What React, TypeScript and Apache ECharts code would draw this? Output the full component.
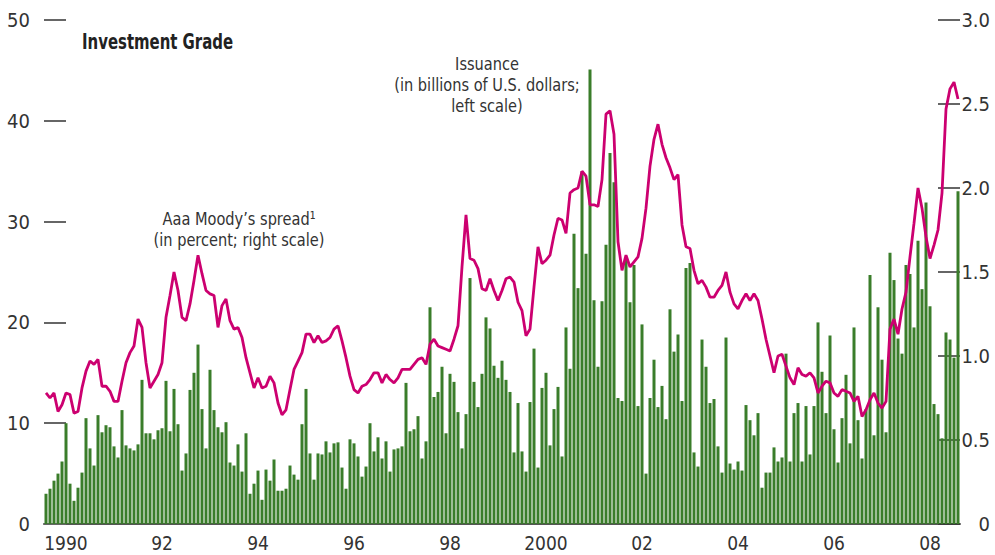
import React, { useEffect, useRef } from "react";
import * as echarts from "echarts";

// Monthly, Aug 1989 – Aug 2008
const startYear = 1989;
const startMonth = 8;

// Investment-grade issuance, billions of U.S. dollars (left scale)
const issuance: number[] = [
  3.0, 3.5, 4.3, 5.0, 6.2, 10.0, 4.0, 2.3, 3.6, 5.1, 10.5, 7.5, 5.8, 10.8, 9.1, 9.8, 9.6, 7.7, 6.6, 11.3,
  7.8, 7.5, 7.3, 7.9, 14.3, 9.0, 9.0, 8.4, 9.3, 9.5, 14.2, 9.2, 13.4, 9.9, 5.3, 7.0, 13.3, 15.0, 17.8, 11.4,
  7.5, 15.3, 11.3, 9.6, 9.1, 10.1, 6.1, 5.8, 7.9, 5.2, 9.0, 3.0, 4.0, 5.3, 2.4, 5.4, 4.3, 6.4, 3.3, 3.3,
  3.5, 5.8, 4.9, 4.4, 9.9, 13.4, 7.0, 4.4, 7.0, 6.9, 8.2, 7.1, 8.0, 8.1, 5.6, 3.5, 8.4, 8.0, 6.7, 4.7,
  5.7, 10.0, 7.2, 8.6, 6.5, 8.2, 5.2, 7.4, 7.5, 7.7, 14.0, 9.2, 9.4, 10.7, 6.5, 8.2, 21.5, 12.6, 13.1, 15.6,
  9.0, 14.9, 14.1, 11.1, 7.5, 10.9, 24.4, 14.1, 11.6, 14.9, 20.5, 19.4, 15.7, 14.5, 16.2, 14.3, 13.1, 7.1, 12.0, 7.2,
  5.2, 12.1, 17.4, 5.6, 13.5, 15.0, 7.8, 11.4, 13.6, 6.7, 19.5, 15.4, 28.8, 23.4, 35.0, 26.8, 45.1, 22.2, 15.6, 22.1,
  27.7, 36.8, 33.9, 12.5, 12.2, 26.2, 22.0, 25.7, 11.7, 19.8, 5.0, 12.5, 16.3, 11.6, 13.7, 10.4, 21.3, 17.1, 18.8, 12.2,
  25.4, 25.9, 7.1, 5.7, 18.3, 15.6, 12.0, 12.4, 7.7, 5.1, 18.5, 6.0, 5.4, 6.2, 5.3, 11.8, 10.3, 8.8, 11.0, 3.6,
  5.1, 5.1, 7.6, 6.2, 6.6, 16.9, 6.2, 11.0, 12.0, 6.2, 11.7, 6.9, 11.7, 20.0, 15.1, 11.0, 18.7, 9.4, 6.1, 10.5,
  14.8, 8.0, 19.5, 10.3, 6.5, 11.4, 24.7, 8.8, 21.5, 16.3, 9.1, 26.9, 24.2, 18.4, 16.9, 25.7, 24.8, 19.5, 28.1, 23.3,
  31.9, 21.6, 11.9, 10.9, 8.5, 19.0, 18.3, 16.5, 33.0,
];

// Aaa Moody's spread, percent (right scale)
const spread: number[] = [
  0.78, 0.75, 0.78, 0.67, 0.71, 0.78, 0.77, 0.66, 0.67, 0.81, 0.91, 0.97, 0.95, 0.98, 0.82, 0.82, 0.79, 0.73, 0.73, 0.85,
  0.96, 1.02, 1.06, 1.22, 1.17, 0.96, 0.81, 0.85, 0.89, 0.96, 1.23, 1.36, 1.50, 1.39, 1.23, 1.21, 1.31, 1.45, 1.60, 1.49,
  1.39, 1.37, 1.36, 1.17, 1.30, 1.34, 1.21, 1.16, 1.17, 1.11, 0.99, 0.90, 0.81, 0.87, 0.81, 0.82, 0.88, 0.84, 0.72, 0.65,
  0.68, 0.80, 0.92, 0.97, 1.02, 1.13, 1.13, 1.08, 1.12, 1.08, 1.09, 1.11, 1.16, 1.18, 1.09, 0.99, 0.88, 0.80, 0.78, 0.82,
  0.83, 0.86, 0.90, 0.90, 0.84, 0.89, 0.86, 0.84, 0.87, 0.92, 0.92, 0.92, 0.95, 0.98, 0.99, 0.95, 1.07, 1.10, 1.06, 1.05,
  1.04, 1.03, 1.10, 1.18, 1.53, 1.84, 1.58, 1.57, 1.52, 1.40, 1.39, 1.46, 1.39, 1.33, 1.39, 1.46, 1.47, 1.44, 1.32, 1.27,
  1.12, 1.16, 1.41, 1.65, 1.55, 1.57, 1.60, 1.72, 1.82, 1.81, 1.73, 1.97, 1.99, 2.00, 2.10, 2.07, 1.90, 1.90, 1.89, 2.05,
  2.44, 2.46, 2.32, 1.68, 1.51, 1.60, 1.53, 1.56, 1.59, 1.70, 1.88, 2.13, 2.29, 2.38, 2.26, 2.18, 2.12, 2.05, 2.08, 1.78,
  1.65, 1.64, 1.51, 1.43, 1.45, 1.41, 1.35, 1.35, 1.39, 1.42, 1.50, 1.38, 1.31, 1.28, 1.33, 1.37, 1.33, 1.37, 1.33, 1.22,
  1.10, 1.00, 0.90, 1.00, 1.01, 0.94, 0.87, 0.83, 0.93, 0.89, 0.88, 0.90, 0.87, 0.78, 0.82, 0.85, 0.84, 0.78, 0.76, 0.80,
  0.79, 0.78, 0.73, 0.76, 0.64, 0.68, 0.74, 0.78, 0.72, 0.69, 0.73, 1.16, 1.22, 1.13, 1.28, 1.38, 1.59, 1.79, 2.00, 1.88,
  1.71, 1.58, 1.66, 1.75, 1.97, 2.47, 2.59, 2.63, 2.53,
];

// Tick labels shown at January of even years
const yearLabels: Record<number, string> = {
  1990: "1990", 1992: "92", 1994: "94", 1996: "96", 1998: "98",
  2000: "2000", 2002: "02", 2004: "04", 2006: "06", 2008: "08",
};

// Annotation lines
const spreadNote: string[] = ["Aaa Moody’s spread¹", "(in percent; right scale)"];
const issuanceNote: string[] = ["Issuance", "(in billions of U.S. dollars;", "left scale)"];
const title = "Investment Grade";

const categories: string[] = issuance.map((_, i) => {
  const m0 = startMonth - 1 + i;
  const y = startYear + Math.floor(m0 / 12);
  const m = (m0 % 12) + 1;
  return `${y}-${String(m).padStart(2, "0")}`;
});

const FONT = "'DejaVu Sans Condensed', 'Liberation Sans Narrow', Roboto, sans-serif";
const TEXT = "#333333";

export default function App() {
  const ref = useRef<HTMLDivElement>(null);
  useEffect(() => {
    if (!ref.current) return;
    const chart = echarts.init(ref.current, null, { renderer: "svg" });
    const labelFor = (cat: string): string => {
      const [y, m] = cat.split("-").map(Number);
      if (m === 1 && yearLabels[y]) return yearLabels[y];
      return "";
    };
    const noteText = (lines: string[], cx: number, cy0: number) =>
      lines.map((t, i) => ({
        type: "text",
        x: cx,
        y: cy0 + i * 21,
        scaleX: 0.9,
        style: {
          text: t,
          x: 0,
          y: 0,
          fontFamily: FONT,
          fontSize: 18,
          fill: TEXT,
          align: "center",
          verticalAlign: "middle",
        },
      }));
    chart.setOption({
      animation: false,
      backgroundColor: "#ffffff",
      grid: { left: 44, right: 35, top: 20, bottom: 31, containLabel: false },
      xAxis: {
        type: "category",
        data: categories,
        axisLine: { show: true, lineStyle: { color: "#555555", width: 2 } },
        axisTick: { show: false },
        axisLabel: {
          interval: (idx: number, val: string) => labelFor(val) !== "",
          formatter: (val: string) => labelFor(val),
          fontFamily: FONT,
          fontSize: 19,
          color: TEXT,
          margin: 9,
        },
        splitLine: { show: false },
      },
      yAxis: [
        {
          type: "value",
          min: 0,
          max: 50,
          interval: 10,
          position: "left",
          axisLine: { show: false },
          axisTick: { show: true, inside: true, length: 22, lineStyle: { color: "#666666", width: 2 } },
          axisLabel: { fontFamily: FONT, fontSize: 20, color: TEXT, margin: 14 },
          splitLine: { show: false },
        },
        {
          type: "value",
          min: 0,
          max: 3,
          interval: 0.5,
          position: "right",
          axisLine: { show: false },
          axisTick: { show: true, inside: true, length: 22, lineStyle: { color: "#333333", width: 1.5 } },
          axisLabel: {
            fontFamily: FONT,
            fontSize: 20,
            color: TEXT,
            margin: 30,
            align: "right",
            formatter: (v: number) => (v === 0 ? "0" : v.toFixed(1)),
          },
          splitLine: { show: false },
        },
      ],
      series: [
        {
          name: "Issuance",
          type: "bar",
          yAxisIndex: 0,
          data: issuance,
          barWidth: 3,
          itemStyle: { color: "#3a7d2a" },
          z: 2,
        },
        {
          name: "Aaa Moody's spread",
          type: "line",
          yAxisIndex: 1,
          data: spread,
          symbol: "none",
          lineStyle: { color: "#cc0070", width: 2.8 },
          z: 3,
        },
      ],
      graphic: [
        {
          type: "text",
          x: 82,
          y: 41,
          scaleX: 0.79,
          style: {
            text: title,
            x: 0,
            y: 0,
            fontFamily: FONT,
            fontWeight: "bold",
            fontSize: 21,
            fill: "#222222",
            align: "left",
            verticalAlign: "middle",
          },
        },
        ...noteText(spreadNote, 239, 219),
        ...noteText(issuanceNote, 487, 64),
      ],
    });
    return () => chart.dispose();
  }, []);
  return (
    <div
      ref={ref}
      style={{ position: "fixed", left: 0, top: 0, width: 995, height: 555, background: "#fff" }}
    />
  );
}
